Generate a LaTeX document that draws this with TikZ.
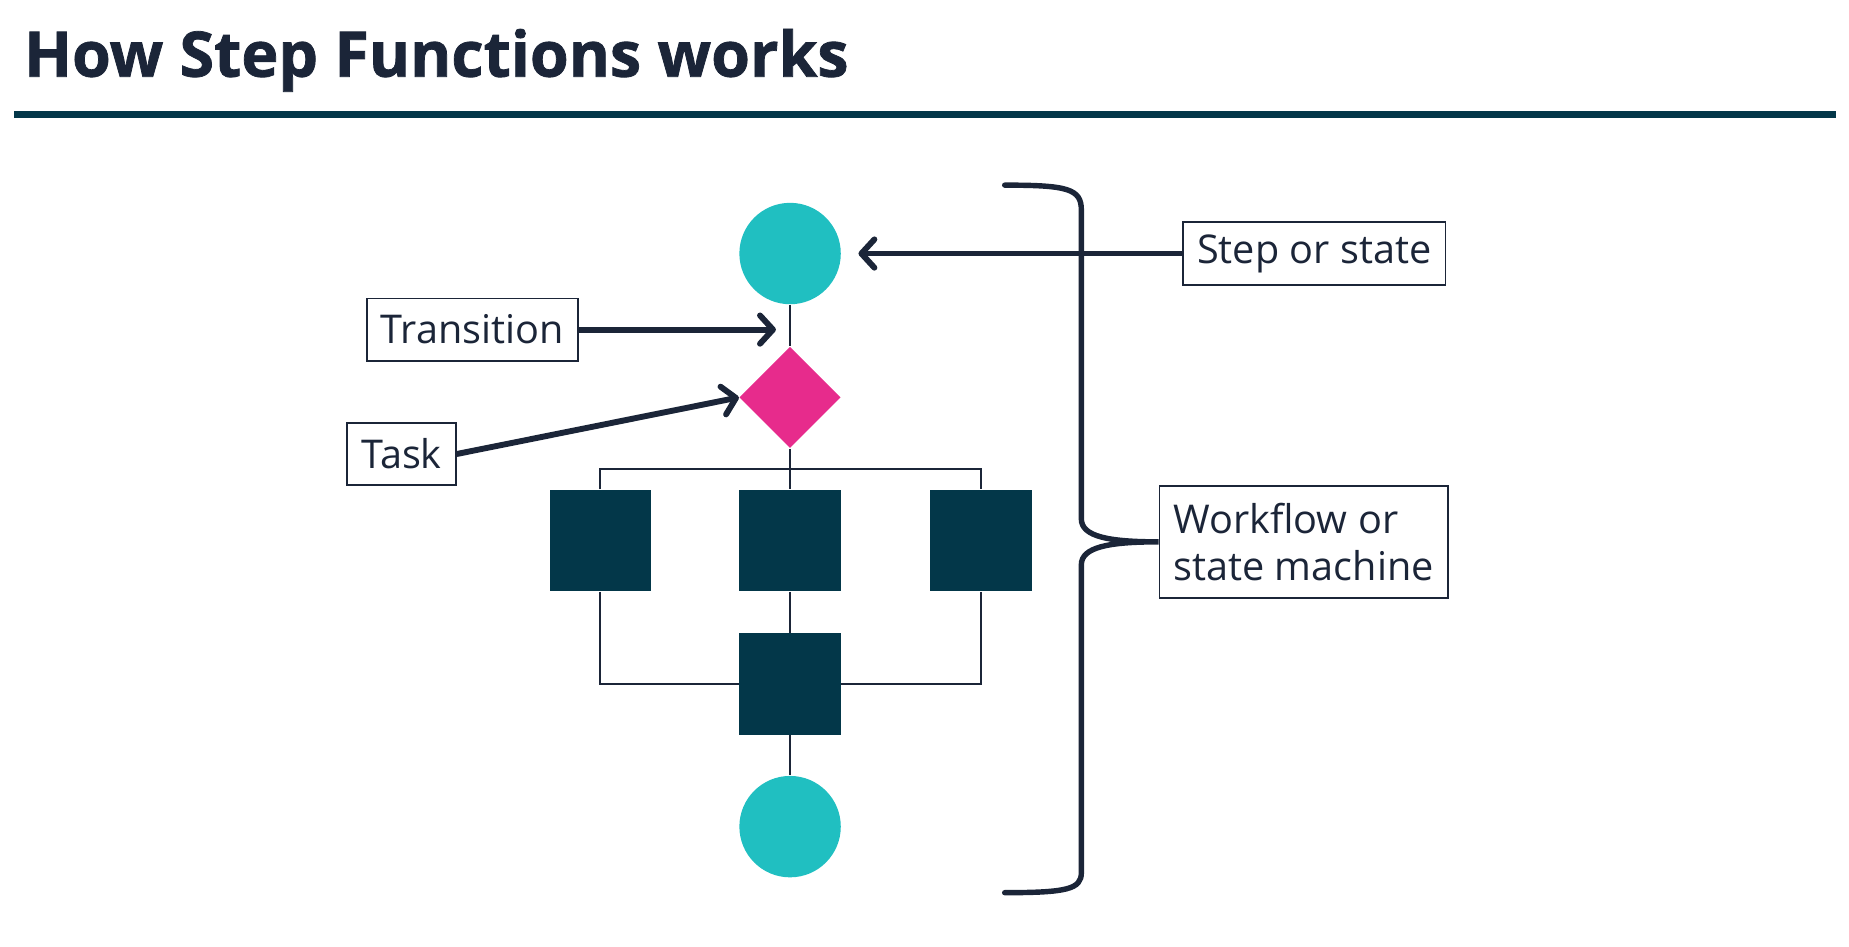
\documentclass[tikz,border=0pt]{standalone}
\usepackage{fontspec}
\setmainfont{Open Sans}
\newfontfamily\headfont{Open Sans}[BoldFeatures={FakeBold=1.2}]
\usetikzlibrary{shapes.geometric,arrows.meta}
\newlength{\du}
\setlength{\du}{0.5pt}
\definecolor{inkcolor}{rgb}{0.106, 0.145, 0.220}
\definecolor{deepcolor}{rgb}{0.012, 0.216, 0.286}
\definecolor{tealcolor}{rgb}{0.125, 0.749, 0.757}
\definecolor{pinkcolor}{rgb}{0.906, 0.169, 0.549}
\tikzset{
  endstate/.style={circle, fill=tealcolor, minimum size=86\du, inner sep=0pt},
  taskstate/.style={diamond, fill=pinkcolor, minimum width=86\du, minimum height=86\du, inner sep=0pt},
  boxstate/.style={rectangle, fill=deepcolor, minimum size=86\du, inner sep=0pt},
  flow/.style={draw=inkcolor, line width=0.75pt},
  callout/.style={draw=inkcolor, line width=0.7pt, text=inkcolor, inner xsep=12\du, minimum height=53\du, font=\fontsize{16.8}{20}\selectfont},
  pointer/.style={draw=inkcolor, line width=2.5pt, -{Straight Barb[round,length=5.5pt,width=12pt]}},
}
\begin{document}
\begin{tikzpicture}
\pgftransformxscale{1.000000}
\pgftransformyscale{-1.000000}
\useasboundingbox (0\du,0\du) rectangle (1568\du,803\du);
% heading
\node[anchor=base west, text=inkcolor, font=\fontsize{26.6}{32}\headfont\bfseries, inner sep=0pt] (title) at (20\du,65\du) {How Step Functions works};
\draw[deepcolor, line width=3pt] (12\du,97\du) -- (1557\du,97\du);
% states
\node[endstate] (start) at (670\du,215\du) {};
\node[taskstate] (task) at (670\du,337\du) {};
\coordinate (fork) at (670\du,398\du);
\node[boxstate] (left) at (509\du,458.5\du) {};
\node[boxstate] (mid) at (670\du,458.5\du) {};
\node[boxstate] (right) at (832\du,458.5\du) {};
\node[boxstate] (join) at (670\du,580\du) {};
\node[endstate] (stop) at (670\du,701\du) {};
% transitions
\draw[flow] (start) -- (task);
\draw[flow] (task) -- (mid);
\draw[flow] (left.north) |- (fork) -| (right.north);
\draw[flow] (mid) -- (join);
\draw[flow] (left.south) |- (join.west);
\draw[flow] (right.south) |- (join.east);
\draw[flow] (join) -- (stop);
% callouts
\node[callout] (lbltrans) at (400.5\du,279.5\du) {Transition};
\node[callout] (lbltask) at (340.5\du,385\du) {Task};
\node[callout] (lblstep) at (1114.5\du,215\du) {Step or state};
\node[callout, align=left, minimum height=95\du] (lblflow) at (1105.5\du,459.5\du) {Workflow or\\state machine};
\coordinate (transtip) at (658\du,279.5\du);
\coordinate (steptip) at (728\du,215\du);
\draw[pointer] (lbltrans.east) -- (transtip);
\draw[pointer] (lbltask.east) -- (task.west);
\draw[pointer] (lblstep.west) -- (steptip);
% brace
\draw[inkcolor, line width=2.3pt, line cap=round] (852\du,157\du) .. controls (905\du,157\du) and (917\du,160\du) .. (917\du,178\du) -- (917\du,440\du) .. controls (917\du,455\du) and (940\du,459.5\du) .. (lblflow.west) .. controls (940\du,459.5\du) and (917\du,464\du) .. (917\du,479\du) -- (917\du,740\du) .. controls (917\du,754\du) and (905\du,757\du) .. (852\du,757\du);
\end{tikzpicture}
\end{document}
